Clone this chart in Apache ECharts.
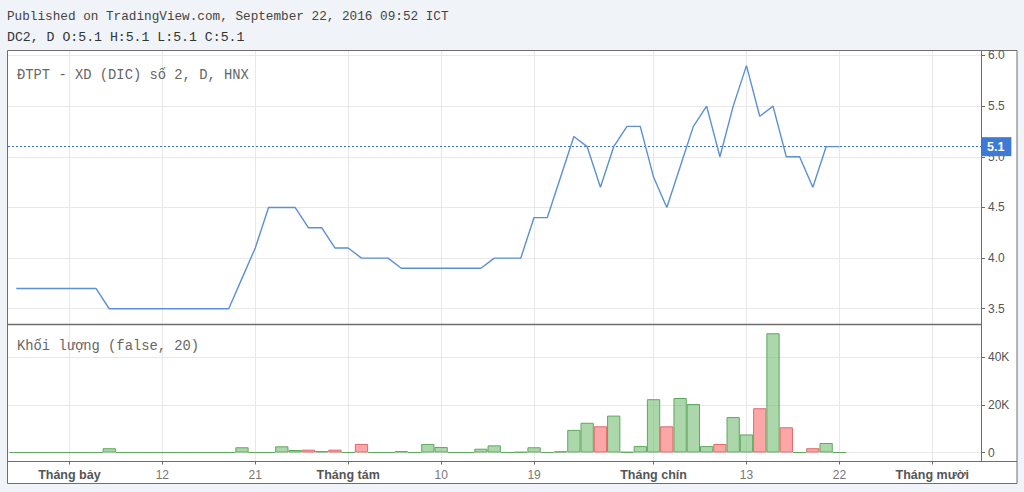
<!DOCTYPE html>
<html><head><meta charset="utf-8">
<script src="https://cdn.jsdelivr.net/npm/echarts@6/dist/echarts.min.js"></script>
<style>html,body{margin:0;padding:0;background:#f0f3f7;}#c{width:1024px;height:492px;}</style>
</head><body><div id="c"></div>
<script>
// ---- data ----
const days = ['06-27','06-28','06-29','06-30','07-01','07-04','07-05','07-06','07-07','07-08','07-11','07-12','07-13','07-14','07-15','07-18','07-19','07-20','07-21','07-22','07-25','07-26','07-27','07-28','07-29','08-01','08-02','08-03','08-04','08-05','08-08','08-09','08-10','08-11','08-12','08-15','08-16','08-17','08-18','08-19','08-22','08-23','08-24','08-25','08-26','08-29','08-30','08-31','09-01','09-05','09-06','09-07','09-08','09-09','09-12','09-13','09-14','09-15','09-16','09-19','09-20','09-21','09-22'];
const futureDays = ['09-23','09-26','09-27','09-28','09-29','09-30','10-03'];
const close = [3.7,3.7,3.7,3.7,3.7,3.7,3.7,
  3.5,3.5,3.5,3.5,3.5,3.5,3.5,3.5,3.5,3.5,
  3.8,4.1,4.5,4.5,4.5,4.3,4.3,4.1,4.1,4.0,4.0,4.0,
  3.9,3.9,3.9,3.9,3.9,3.9,3.9,4.0,4.0,4.0,4.4,4.4,
  4.8,5.2,5.1,4.7,5.1,5.3,5.3,4.8,4.5,4.9,5.3,5.5,5.0,5.5,5.9,5.4,5.5,5.0,5.0,4.7,5.1,5.1];
const volume = [0,0,0,0,0,0,0,1800,0,0,0,0,0,0,0,0,0,2200,0,0,2600,1050,1200,600,1200,0,3600,0,0,600,0,3600,2300,0,0,1600,3000,0,200,2200,0,500,9500,12500,11000,15500,200,2700,22400,11000,22900,20400,2700,3600,14900,7600,18600,50100,10600,0,1800,4000,0];
const downDays = ['07-27','07-29','08-02','08-26','09-05','09-09','09-14','09-16','09-20'];
const tickDates = ['07-01','07-12','07-21','08-01','08-10','08-19','09-01','09-13','09-22','10-03'];
const tickLabels = ['Tháng bảy','12','21','Tháng tám','10','19','Tháng chín','13','22','Tháng mười'];
const monthTicks = ['Tháng bảy','Tháng tám','Tháng chín','Tháng mười'];
const priceTicks = [3.5,4.0,4.5,5.0,5.5,6.0];
const volTicks = [0,20000,40000];
const lastClose = 5.1;

// ---- build ----
const allDays = days.concat(futureDays);
const tickIdx = tickDates.map(d => allDays.indexOf(d));
const lineData = close.map((v,i) => [i, v]);
const upStyle = {color:'rgba(120,190,120,0.62)', borderColor:'#5fa85f', borderWidth:1};
const dnStyle = {color:'rgba(250,130,130,0.7)', borderColor:'#e06a6a', borderWidth:1};
const barData = volume.map((v,i) => ({value:[i, v], itemStyle: downDays.indexOf(days[i]) >= 0 ? dnStyle : upStyle}));

const X0 = -0.625, X1 = 72.666;
const gridCol = '#e8e8e8', frameCol = '#6e6e6e', tickCol = '#666';
const mono = 'Liberation Mono';

const chart = echarts.init(document.getElementById('c'), null, {renderer:'svg'});
const xCommon = {
  type:'value', min:X0, max:X1,
  axisLine:{show:false, onZero:false},
  splitLine:{show:true, lineStyle:{color:gridCol, width:1}},
};
chart.setOption({
  animation:false,
  backgroundColor:'#f0f3f7',
  grid:[
    {left:8, right:43, top:51, height:273, containLabel:false},
    {left:8, right:43, top:324, height:137.5, containLabel:false}
  ],
  xAxis:[
    Object.assign({gridIndex:0, position:'bottom', axisTick:{show:false, customValues:tickIdx}, axisLabel:{show:false, customValues:tickIdx}}, xCommon),
    Object.assign({gridIndex:1, position:'bottom',
      axisTick:{show:true, length:3, lineStyle:{color:tickCol}, customValues:tickIdx},
      axisLabel:{show:true, margin:7, customValues:tickIdx,
        formatter: v => { const k = tickIdx.indexOf(Math.round(v)); if (k<0) return ''; const t = tickLabels[k]; return monthTicks.indexOf(t)>=0 ? '{m|'+t+'}' : '{d|'+t+'}'; },
        rich:{ m:{fontFamily:'Liberation Sans', fontSize:12.5, fontWeight:'bold', color:'#555'},
               d:{fontFamily:'Liberation Sans', fontSize:12, color:'#777'} } }
    }, xCommon)
  ],
  yAxis:[
    {type:'value', gridIndex:0, position:'right', min:3.3494, max:6.0444,
     axisLine:{show:false, onZero:false},
     axisTick:{show:true, length:4, lineStyle:{color:tickCol}, customValues:priceTicks},
     axisLabel:{margin:7, customValues:priceTicks, color:'#555', fontFamily:'Liberation Sans', fontSize:12, formatter:v=>Number(v).toFixed(1)},
     splitLine:{show:true, lineStyle:{color:gridCol}}},
    {type:'value', gridIndex:1, position:'right', min:-3780, max:54000,
     axisLine:{show:false, onZero:false},
     axisTick:{show:true, length:4, lineStyle:{color:tickCol}, customValues:volTicks},
     axisLabel:{margin:7, customValues:volTicks, color:'#555', fontFamily:'Liberation Sans', fontSize:12, formatter:v=> Number(v)===0 ? '0' : (Number(v)/1000)+'K'},
     splitLine:{show:true, lineStyle:{color:gridCol}}}
  ],
  series:[
    {type:'line', xAxisIndex:0, yAxisIndex:0, data:lineData, showSymbol:false, symbol:'none',
     lineStyle:{color:'#5b8fd6', width:1.4}, z:5,
     markLine:{silent:true, symbol:'none', data:[{yAxis:lastClose}],
       lineStyle:{color:'#3f72c4', type:[2,2], width:1},
       label:{show:true, position:'end', distance:0, formatter:()=>lastClose.toFixed(1),
         backgroundColor:'#3d7ad6', color:'#fff', fontWeight:'bold', fontFamily:'Liberation Sans', fontSize:12.5,
         lineHeight:13, padding:[3,7,3,6]}}},
    {type:'bar', xAxisIndex:1, yAxisIndex:1, data:barData, barWidth:13.3, z:5}
  ],
  graphic:[
    {type:'rect', z:-10, shape:{x:7.5, y:50.5, width:1009.5, height:433}, style:{fill:'#fff', stroke:frameCol, lineWidth:1}},
    {type:'line', z:50, shape:{x1:7.5, y1:324.5, x2:981.5, y2:324.5}, style:{stroke:frameCol, lineWidth:1.5}},
    {type:'line', z:50, shape:{x1:7.5, y1:461.5, x2:1017, y2:461.5}, style:{stroke:frameCol, lineWidth:1}},
    {type:'line', z:50, shape:{x1:981.5, y1:50.5, x2:981.5, y2:461.5}, style:{stroke:frameCol, lineWidth:1}},
    {type:'text', z:50, x:7, y:16, style:{text:'Published on TradingView.com, September 22, 2016 09:52 ICT', fontFamily:mono, fontSize:12.7, fill:'#444', verticalAlign:'middle'}},
    {type:'text', z:50, x:7, y:37, style:{text:'DC2, D O:5.1 H:5.1 L:5.1 C:5.1', fontFamily:mono, fontSize:13.2, fill:'#333', verticalAlign:'middle'}},
    {type:'text', z:50, x:17, y:75, style:{text:'ĐTPT - XD (DIC) số 2, D, HNX', fontFamily:mono, fontSize:13.8, fill:'#666', verticalAlign:'middle'}},
    {type:'text', z:50, x:17, y:346, style:{text:'Khối lượng (false, 20)', fontFamily:mono, fontSize:13.8, fill:'#666', verticalAlign:'middle'}}
  ]
});
</script></body></html>
